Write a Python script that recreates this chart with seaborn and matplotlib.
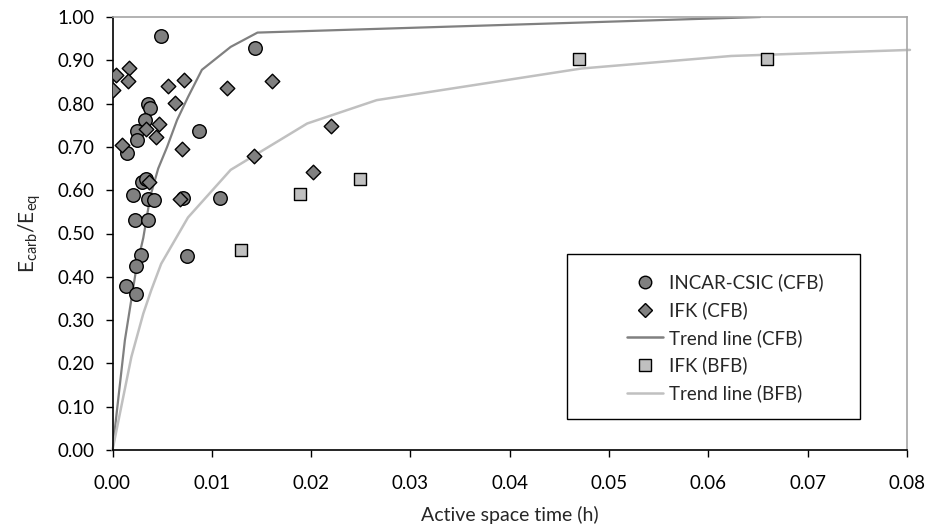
import matplotlib
matplotlib.use("Agg")
import matplotlib.pyplot as plt
import seaborn as sns
from matplotlib.lines import Line2D
from matplotlib.patches import Rectangle

# INCAR-CSIC (CFB)
incar_x = [0.0049, 0.0143, 0.0036, 0.0038, 0.0033, 0.0025, 0.0025, 0.0015, 0.0087, 0.0108,
           0.0030, 0.0034, 0.0021, 0.0036, 0.0042, 0.0071, 0.0023, 0.0036, 0.0029, 0.0024,
           0.0075, 0.0014, 0.0024]
incar_y = [0.956, 0.928, 0.800, 0.790, 0.763, 0.737, 0.715, 0.686, 0.736, 0.583,
           0.619, 0.625, 0.590, 0.579, 0.577, 0.581, 0.532, 0.532, 0.450, 0.425,
           0.448, 0.379, 0.360]
# IFK (CFB)
ifk_cfb_x = [0.00035, 0.0017, 0.0016, 0.0001, 0.0056, 0.0072, 0.0063, 0.0047, 0.0034, 0.0044,
             0.0010, 0.0070, 0.0037, 0.0068, 0.0115, 0.0161, 0.0220, 0.0142, 0.0202]
ifk_cfb_y = [0.865, 0.882, 0.852, 0.831, 0.840, 0.855, 0.801, 0.752, 0.742, 0.723,
             0.705, 0.694, 0.618, 0.579, 0.835, 0.852, 0.748, 0.678, 0.642]
# IFK (BFB)
ifk_bfb_x = [0.0129, 0.0189, 0.0249, 0.0470, 0.0659]
ifk_bfb_y = [0.463, 0.592, 0.625, 0.904, 0.904]
# Trend line (CFB)
trend_cfb_x = [0.0, 0.00125, 0.0024, 0.0031, 0.0038, 0.0046, 0.0055, 0.0065, 0.0076, 0.0090, 0.0119, 0.0146, 0.0652]
trend_cfb_y = [0.0, 0.254, 0.420, 0.490, 0.585, 0.650, 0.700, 0.762, 0.815, 0.878, 0.931, 0.964, 1.0]
# Trend line (BFB)
trend_bfb_x = [0.0, 0.0019, 0.0031, 0.0039, 0.0049, 0.0076, 0.0119, 0.0196, 0.0266, 0.0472, 0.0623, 0.0803]
trend_bfb_y = [0.0, 0.215, 0.315, 0.369, 0.430, 0.537, 0.647, 0.754, 0.808, 0.881, 0.910, 0.924]

x_ticks = [0.00, 0.01, 0.02, 0.03, 0.04, 0.05, 0.06, 0.07, 0.08]
y_ticks = [0.0, 0.1, 0.2, 0.3, 0.4, 0.5, 0.6, 0.7, 0.8, 0.9, 1.0]
legend_labels = ['INCAR-CSIC (CFB)', 'IFK (CFB)', 'Trend line (CFB)', 'IFK (BFB)', 'Trend line (BFB)']

sns.set_theme(style="white")
plt.rcParams['font.family'] = ['Lato', 'DejaVu Sans']
plt.rcParams['mathtext.fontset'] = 'custom'
plt.rcParams['mathtext.rm'] = 'Lato'
plt.rcParams['mathtext.it'] = 'Lato'

W, H = 927, 532
L, R, T, B = 112.5, 907.0, 17.0, 450.0
fig = plt.figure(figsize=(W / 100, H / 100), dpi=100)
ax = fig.add_axes([L / W, 1 - B / H, (R - L) / W, (B - T) / H])

dark = '#808080'
light = '#C0C0C0'

sns.lineplot(x=trend_cfb_x, y=trend_cfb_y, ax=ax, color=dark, linewidth=1.6,
             sort=False, estimator=None, zorder=2)
sns.lineplot(x=trend_bfb_x, y=trend_bfb_y, ax=ax, color=light, linewidth=1.8,
             sort=False, estimator=None, zorder=2)
ax.lines[1].set_clip_on(False)

sns.scatterplot(x=incar_x, y=incar_y, ax=ax, marker='o', s=95, color=dark,
                edgecolor='black', linewidth=1.0, zorder=3)
sns.scatterplot(x=ifk_cfb_x, y=ifk_cfb_y, ax=ax, marker='D', s=55, color=dark,
                edgecolor='black', linewidth=1.0, zorder=3)
sns.scatterplot(x=ifk_bfb_x, y=ifk_bfb_y, ax=ax, marker='s', s=80, color=light,
                edgecolor='black', linewidth=1.0, zorder=3)

ax.set_xlim(0, 0.08)
ax.set_ylim(0, 1.0)
ax.set_xticks(x_ticks)
ax.set_xticklabels([f"{v:.2f}" for v in x_ticks])
ax.set_yticks(y_ticks)
ax.set_yticklabels([f"{v:.2f}" for v in y_ticks])
ax.tick_params(axis='both', which='both', direction='out', length=5, width=1,
               color='black', labelsize=13.5, labelcolor='black',
               bottom=True, left=True)
ax.tick_params(axis='x', pad=13)
ax.tick_params(axis='y', pad=8)

for s in ['left', 'bottom']:
    ax.spines[s].set_color('black')
    ax.spines[s].set_linewidth(1.2)
for s in ['top', 'right']:
    ax.spines[s].set_color('#A6A6A6')
    ax.spines[s].set_linewidth(1.2)

ax.set_xlabel('Active space time (h)', fontsize=14, labelpad=10)
ax.set_ylabel(r'E$_{\mathrm{carb}}$/E$_{\mathrm{eq}}$', fontsize=15, labelpad=10)

def ax_fx(px):
    return (px - L) / (R - L)

def ax_fy(py):
    return (B - py) / (B - T)

# legend frame
ax.add_patch(Rectangle((ax_fx(567), ax_fy(419)), ax_fx(860) - ax_fx(567), ax_fy(254) - ax_fy(419),
                       transform=ax.transAxes, facecolor='white', edgecolor='black',
                       linewidth=1.0, zorder=4, clip_on=False))

handles = [
    Line2D([], [], linestyle='none', marker='o', markersize=9, markerfacecolor=dark,
           markeredgecolor='black', markeredgewidth=1.0),
    Line2D([], [], linestyle='none', marker='D', markersize=7, markerfacecolor=dark,
           markeredgecolor='black', markeredgewidth=1.0),
    Line2D([], [], color=dark, linewidth=1.8),
    Line2D([], [], linestyle='none', marker='s', markersize=8, markerfacecolor=light,
           markeredgecolor='black', markeredgewidth=1.0),
    Line2D([], [], color=light, linewidth=1.8),
]
leg = ax.legend(handles, legend_labels, loc='center left',
                bbox_to_anchor=(ax_fx(627), ax_fy(338)),
                frameon=False, fontsize=13.5, handlelength=1.92, handletextpad=0.3,
                labelspacing=0.52, borderpad=0, borderaxespad=0)
leg.set_zorder(5)

fig.savefig('out.png', dpi=100)
